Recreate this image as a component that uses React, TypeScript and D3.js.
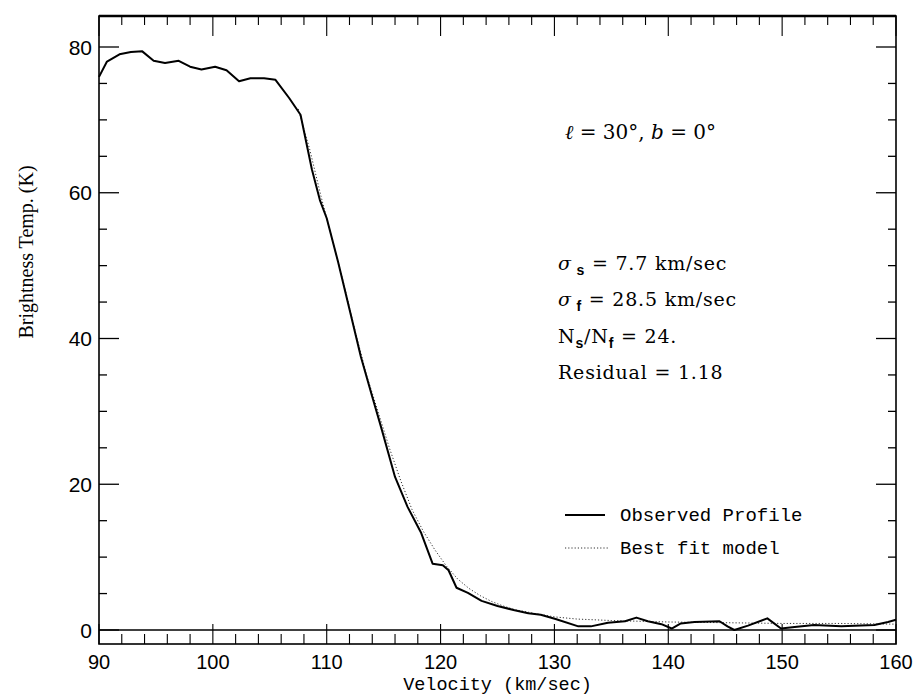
import React from "react";
import * as d3 from "d3";

const obsVel = [90.0, 90.7, 91.8, 92.8, 93.8, 94.8, 95.8, 97.0, 98.0, 99.0, 100.2, 101.2, 102.3, 103.3, 104.5, 105.5, 106.7, 107.7, 108.7, 109.4, 110.0, 111.0, 112.0, 113.0, 114.0, 114.8, 116.0, 117.1, 118.3, 119.3, 120.2, 120.7, 121.4, 122.4, 123.6, 125.0, 126.5, 127.7, 128.8, 130.1, 132.1, 133.2, 134.7, 136.2, 137.2, 138.2, 139.4, 140.3, 141.1, 142.3, 144.5, 145.2, 145.8, 147.0, 148.7, 149.9, 151.1, 152.8, 155.2, 158.1, 159.3, 160.0];
const obsTemp = [75.9, 78.0, 79.0, 79.3, 79.4, 78.1, 77.8, 78.1, 77.3, 76.9, 77.3, 76.8, 75.3, 75.7, 75.7, 75.5, 73.0, 70.7, 63.2, 59.0, 56.5, 50.5, 44.0, 37.5, 32.0, 27.7, 21.0, 16.9, 13.3, 9.1, 8.9, 8.2, 5.8, 5.1, 4.0, 3.3, 2.7, 2.3, 2.1, 1.5, 0.5, 0.5, 1.0, 1.2, 1.7, 1.2, 0.8, 0.2, 0.9, 1.1, 1.2, 0.5, 0.0, 0.6, 1.6, 0.2, 0.4, 0.7, 0.5, 0.7, 1.1, 1.4];

const modelVel = [107.5, 108.5, 109.5, 110.5, 111.5, 112.5, 113.5, 114.5, 115.5, 116.5, 117.5, 118.5, 119.5, 120.5, 121.5, 122.5, 123.5, 124.5, 125.5, 126.5, 127.5, 128.5, 130, 132, 135, 140, 145, 150, 155, 160];
const modelTemp = [71.5, 66.0, 59.5, 53.5, 47.5, 41.0, 35.0, 30.0, 25.0, 20.5, 16.5, 13.5, 11.0, 8.8, 7.0, 5.7, 4.7, 3.9, 3.3, 2.8, 2.5, 2.2, 1.8, 1.5, 1.3, 1.1, 1.0, 0.9, 0.9, 0.8];

const xTickLabels = [90, 100, 110, 120, 130, 140, 150, 160];
const yTickLabels = [0, 20, 40, 60, 80];

const W = 916, H = 698;
const L = 99, R = 896, T = 16, B = 644;

export default function App() {
  const x = d3.scaleLinear().domain([90, 160]).range([L, R]);
  const y = d3.scaleLinear().domain([0, 80]).range([630, 47]);

  const obs = obsVel.map((v, i) => [v, obsTemp[i]] as [number, number]);
  const mod = modelVel.map((v, i) => [v, modelTemp[i]] as [number, number]);
  const line = d3.line<[number, number]>().x(d => x(d[0])).y(d => y(d[1]));

  const xMinor = d3.range(90, 160.01, 2);
  const yMinor = d3.range(0, 84, 5);

  const tickFont = "Liberation Sans, Arial, sans-serif";
  const monoFont = "Liberation Mono, Courier New, monospace";
  const serifFont = "DejaVu Serif, serif";

  return (
    <svg width={W} height={H} style={{ position: "absolute", left: 0, top: 0, background: "#fff" }}>
      <rect x={0} y={0} width={W} height={H} fill="#fff" />
      {/* frame */}
      <rect x={L} y={T} width={R - L} height={B - T} fill="none" stroke="#000" strokeWidth={1.6} />
      <line x1={L} x2={R} y1={T} y2={T} stroke="#000" strokeWidth={2.4} />
      {/* zero line */}
      <line x1={L} x2={R} y1={y(0)} y2={y(0)} stroke="#000" strokeWidth={1.6} />

      {/* bottom & top ticks */}
      {xMinor.map(v => {
        const major = Math.abs(v % 10) < 1e-6;
        return (
          <g key={"xt" + v}>
            <line x1={x(v)} x2={x(v)} y1={B} y2={B - (major ? 20 : 10)} stroke="#000" strokeWidth={1.1} />
            <line x1={x(v)} x2={x(v)} y1={T} y2={T + (major ? 20 : 9)} stroke="#000" strokeWidth={1.1} />
          </g>
        );
      })}
      {/* left & right ticks */}
      {yMinor.map(v => {
        const major = v % 20 === 0;
        return (
          <g key={"yt" + v}>
            <line x1={L} x2={L + (major ? 20 : 8)} y1={y(v)} y2={y(v)} stroke="#000" strokeWidth={1.3} />
            <line x1={R} x2={R - (major ? 20 : 8)} y1={y(v)} y2={y(v)} stroke="#000" strokeWidth={1.3} />
          </g>
        );
      })}

      {/* tick labels */}
      {xTickLabels.map(v => (
        <text key={"xl" + v} x={x(v)} y={669} textAnchor="middle" fontFamily={tickFont} fontSize={20}>{v}</text>
      ))}
      {yTickLabels.map(v => (
        <text key={"yl" + v} x={92} y={y(v) + 7.5} textAnchor="end" fontFamily={tickFont} fontSize={21}>{v}</text>
      ))}

      {/* axis titles */}
      <text x={(L + R) / 2} y={690} textAnchor="middle" fontFamily={monoFont} fontSize={18.5}>Velocity (km/sec)</text>
      <text transform={`translate(33,${252}) rotate(-90)`} textAnchor="middle" fontFamily="Liberation Serif, Times New Roman, serif" fontSize={20}>Brightness Temp. (K)</text>

      {/* curves */}
      <path d={line(mod) || ""} fill="none" stroke="#333" strokeWidth={1} strokeDasharray="1.2 2" />
      <path d={line(obs) || ""} fill="none" stroke="#000" strokeWidth={2} strokeLinejoin="round" />

      {/* annotations */}
      <text x={565} y={139} fontFamily={serifFont} fontSize={20}>
        <tspan fontStyle="italic">ℓ</tspan> = 30°, <tspan fontStyle="italic">b</tspan> = 0°
      </text>
      <g fontFamily={serifFont} fontSize={19} letterSpacing={0.8}>
        <text x={558} y={270}>
          <tspan fontStyle="italic">σ</tspan>
          <tspan fontFamily={tickFont} fontWeight="bold" fontSize={14} dy={5}> s</tspan>
          <tspan dy={-5}> = 7.7 km/sec</tspan>
        </text>
        <text x={558} y={306}>
          <tspan fontStyle="italic">σ</tspan>
          <tspan fontFamily={tickFont} fontWeight="bold" fontSize={14} dy={5}> f</tspan>
          <tspan dy={-5}> = 28.5 km/sec</tspan>
        </text>
        <text x={558} y={343}>
          <tspan>N</tspan>
          <tspan fontFamily={tickFont} fontWeight="bold" fontSize={14} dy={5}>s</tspan>
          <tspan dy={-5}>/N</tspan>
          <tspan fontFamily={tickFont} fontWeight="bold" fontSize={14} dy={5}>f</tspan>
          <tspan dy={-5}> = 24.</tspan>
        </text>
        <text x={558} y={379}>Residual = 1.18</text>
      </g>

      {/* legend */}
      <line x1={565} x2={605} y1={515} y2={515} stroke="#000" strokeWidth={2} />
      <text x={620} y={521} fontFamily={monoFont} fontSize={19}>Observed Profile</text>
      <line x1={565} x2={608} y1={548} y2={548} stroke="#333" strokeWidth={1} strokeDasharray="1.2 2" />
      <text x={620} y={554} fontFamily={monoFont} fontSize={19}>Best fit model</text>
    </svg>
  );
}
